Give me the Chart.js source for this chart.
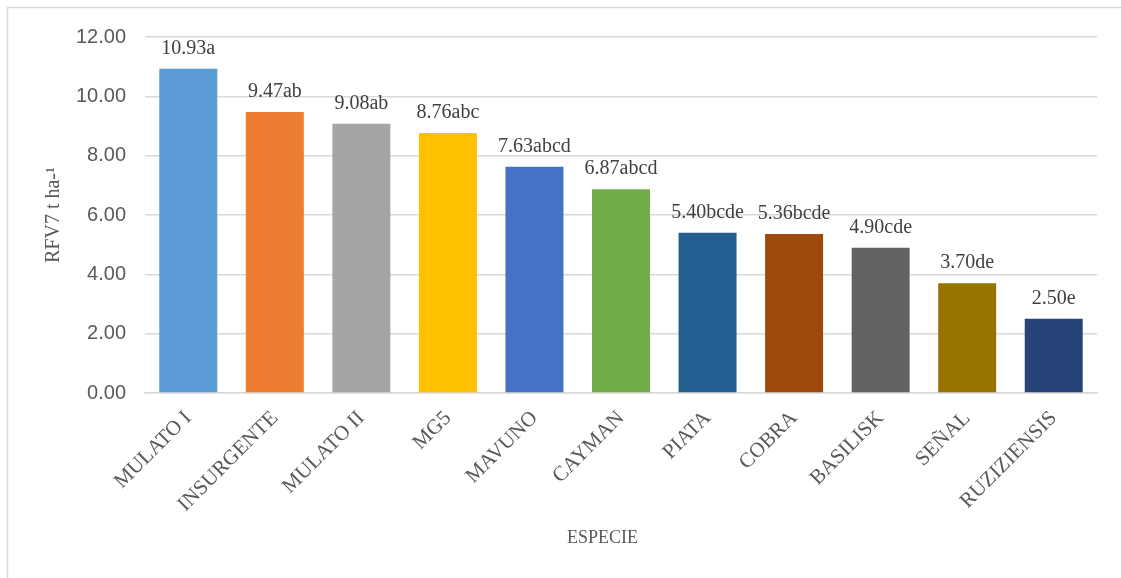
<!DOCTYPE html>
<html>
<head>
<meta charset="utf-8">
<script src="https://cdn.jsdelivr.net/npm/chart.js@4/dist/chart.umd.min.js"></script>
<style>
  html, body { margin: 0; padding: 0; background: #fff; overflow: hidden; }
  #wrap { width: 1121px; height: 578px; position: relative; }
</style>
</head>
<body>
<div id="wrap"><canvas id="chart"></canvas></div>
<script>
// datos
const especies = ["MULATO I", "INSURGENTE", "MULATO II", "MG5", "MAVUNO", "CAYMAN", "PIATA", "COBRA", "BASILISK", "SEÑAL", "RUZIZIENSIS"];
const rfv7 = [10.93, 9.47, 9.08, 8.76, 7.63, 6.87, 5.40, 5.36, 4.90, 3.70, 2.50];
const letras = ["a", "ab", "ab", "abc", "abcd", "abcd", "bcde", "bcde", "cde", "de", "e"];
const colores = ["#5B9BD5", "#ED7D31", "#A5A5A5", "#FFC000", "#4472C4", "#70AD47", "#255E91", "#9E480E", "#636363", "#997300", "#264478"];

const serif = "'Liberation Serif', 'Times New Roman', serif";
const sans = "'Liberation Sans', Arial, sans-serif";

// marco, etiquetas sobre las barras y titulo del eje x
const extras = {
  id: "extras",
  beforeDraw(chart) {
    const c = chart.ctx;
    c.save();
    c.strokeStyle = "#d9d9d9";
    c.lineWidth = 1.5;
    c.strokeRect(7.5, 7.5, 1300, 800);
    c.restore();
  },
  afterDatasetsDraw(chart) {
    const c = chart.ctx;
    const meta = chart.getDatasetMeta(0);
    c.save();
    c.font = "20px " + serif;
    c.fillStyle = "#404040";
    c.textAlign = "center";
    c.textBaseline = "alphabetic";
    meta.data.forEach((bar, i) => {
      c.fillText(rfv7[i].toFixed(2) + letras[i], bar.x, bar.y - 15);
    });
    c.font = "18px " + serif;
    c.fillStyle = "#595959";
    c.textBaseline = "middle";
    c.fillText("ESPECIE", chart.width / 2 + 42, 538);
    c.restore();
  }
};

const ctx = document.getElementById("chart").getContext("2d");
new Chart(ctx, {
  type: "bar",
  data: {
    labels: especies,
    datasets: [{
      data: rfv7,
      backgroundColor: colores,
      barPercentage: 0.67,
      categoryPercentage: 1
    }]
  },
  options: {
    responsive: true,
    maintainAspectRatio: false,
    animation: false,
    layout: { padding: { left: 30, right: 24, top: 37, bottom: 0 } },
    plugins: { legend: { display: false }, tooltip: { enabled: false } },
    scales: {
      x: {
        grid: { display: false },
        border: { color: "#d9d9d9", width: 1.5 },
        ticks: {
          color: "#595959",
          font: { family: serif, size: 21 },
          minRotation: 45,
          maxRotation: 45,
          padding: 5
        },
        afterFit(scale) { scale.height = 185; }
      },
      y: {
        min: 0,
        max: 12,
        grid: { color: "#d9d9d9", lineWidth: 1.5, drawTicks: false },
        border: { display: false },
        ticks: {
          stepSize: 2,
          color: "#595959",
          font: { family: sans, size: 20 },
          padding: 19,
          callback: (v) => v.toFixed(2)
        },
        title: {
          display: true,
          text: "RFV7 t ha-¹",
          color: "#595959",
          font: { family: serif, size: 20 },
          padding: { top: 12, bottom: 0 }
        },
        afterFit(scale) { scale.width = 115; }
      }
    }
  },
  plugins: [extras]
});
</script>
</body>
</html>
